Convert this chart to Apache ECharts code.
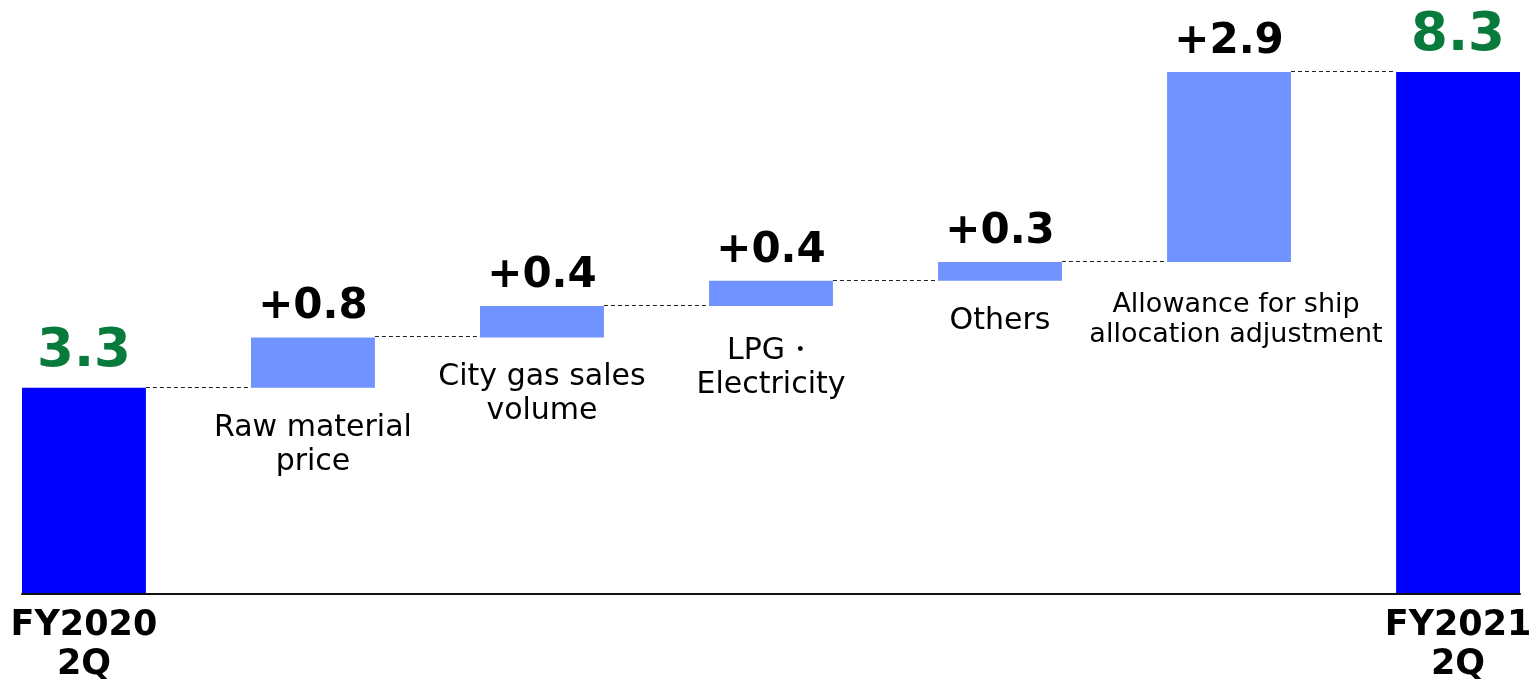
<!DOCTYPE html>
<html><head><meta charset="utf-8">
<script src="https://cdn.jsdelivr.net/npm/echarts@6/dist/echarts.min.js"></script>
<style>html,body{margin:0;padding:0;background:#fff}#c{width:1537px;height:684px}</style>
</head><body><div id="c"></div>
<script>
// ---- data ----
const categories = ['FY2020\n2Q', 'Raw material\nprice', 'City gas sales\nvolume', 'LPG・\nElectricity', 'Others', 'Allowance for ship\nallocation adjustment', 'FY2021\n2Q'];
const barKinds = ['total', 'delta', 'delta', 'delta', 'delta', 'delta', 'total'];
const barValues = [3.28, 0.80, 0.50, 0.40, 0.30, 3.02, 8.30];
const valueLabels = ['3.3', '+0.8', '+0.4', '+0.4', '+0.3', '+2.9', '8.3'];

// ---- build ----
const HALF = 0.2705;
let running = 0;
const barData = barValues.map((v, i) => {
  let low, high;
  if (barKinds[i] === 'total') { low = 0; high = v; }
  else { low = running; high = running + v; }
  running = high;
  return [i, low, high];
});
const connData = barData.slice(0, -1).map(d => [d[0], d[2]]);

const FONT = 'DejaVu Sans';

function renderBar(params, api) {
  const i = api.value(0), low = api.value(1), high = api.value(2);
  const pTop = api.coord([i, high]), pLow = api.coord([i, low]);
  const w = api.size([2 * HALF, 0])[0];
  const isTotal = barKinds[i] === 'total';
  const catText = categories[i];
  const longLabel = catText.split('\n').some(s => s.length > 16);
  const children = [
    { type: 'rect', shape: { x: pTop[0] - w / 2, y: pTop[1], width: w, height: pLow[1] - pTop[1] },
      style: { fill: isTotal ? '#0000FF' : '#7093FF' } },
    { type: 'text', x: pTop[0], y: pTop[1] - 9,
      style: { text: valueLabels[i], fontFamily: FONT, fontWeight: 'bold', fontSize: isTotal ? 53 : 42,
        lineHeight: isTotal ? 53 : 42, fill: isTotal ? '#087A3B' : '#000000',
        align: 'center', verticalAlign: 'bottom', textAlign: 'center', textVerticalAlign: 'bottom' } }
  ];
  if (isTotal) {
    children.push({ type: 'text', x: pLow[0], y: pLow[1] + 12,
      style: { text: catText, fontFamily: FONT, fontWeight: 'bold', fontSize: 35, lineHeight: 39, fill: '#000',
        align: 'center', verticalAlign: 'top', textAlign: 'center', textVerticalAlign: 'top' } });
  } else {
    const hasCJK = /[\u3000-\u30ff]/.test(catText);
    children.push({ type: 'text', x: pLow[0] + (longLabel ? 7 : 0), y: pLow[1] + (longLabel ? 28 : (hasCJK ? 28 : 23)),
      style: { text: catText, fontFamily: FONT, fontWeight: 'normal', fontSize: longLabel ? 27 : 30,
        lineHeight: longLabel ? 30 : 34, fill: '#000',
        align: 'center', verticalAlign: 'top', textAlign: 'center', textVerticalAlign: 'top' } });
  }
  return { type: 'group', children };
}

function renderConn(params, api) {
  const i = api.value(0), level = api.value(1);
  const a = api.coord([i + HALF, level]);
  const b = api.coord([i + 1 - HALF, level]);
  const y = Math.round(a[1]) - 0.5;
  return { type: 'line', shape: { x1: a[0], y1: y, x2: b[0], y2: y },
    style: { stroke: '#222', lineWidth: 1, lineDash: [4, 3] } };
}

const chart = echarts.init(document.getElementById('c'), null, { renderer: 'canvas' });
chart.setOption({
  animation: false,
  backgroundColor: '#fff',
  grid: { left: 22, right: 17, top: 28, bottom: 90 },
  xAxis: { type: 'value', min: -HALF, max: categories.length - 1 + HALF, z: 5,
    axisLine: { show: true, onZero: false, lineStyle: { color: '#111', width: 2 } },
    axisTick: { show: false }, axisLabel: { show: false }, splitLine: { show: false } },
  yAxis: { type: 'value', min: 0, max: 9, show: false, splitLine: { show: false } },
  series: [
    { type: 'custom', renderItem: renderConn, data: connData, z: 1, silent: true },
    { type: 'custom', renderItem: renderBar, data: barData, z: 2, silent: true }
  ]
});
</script></body></html>
